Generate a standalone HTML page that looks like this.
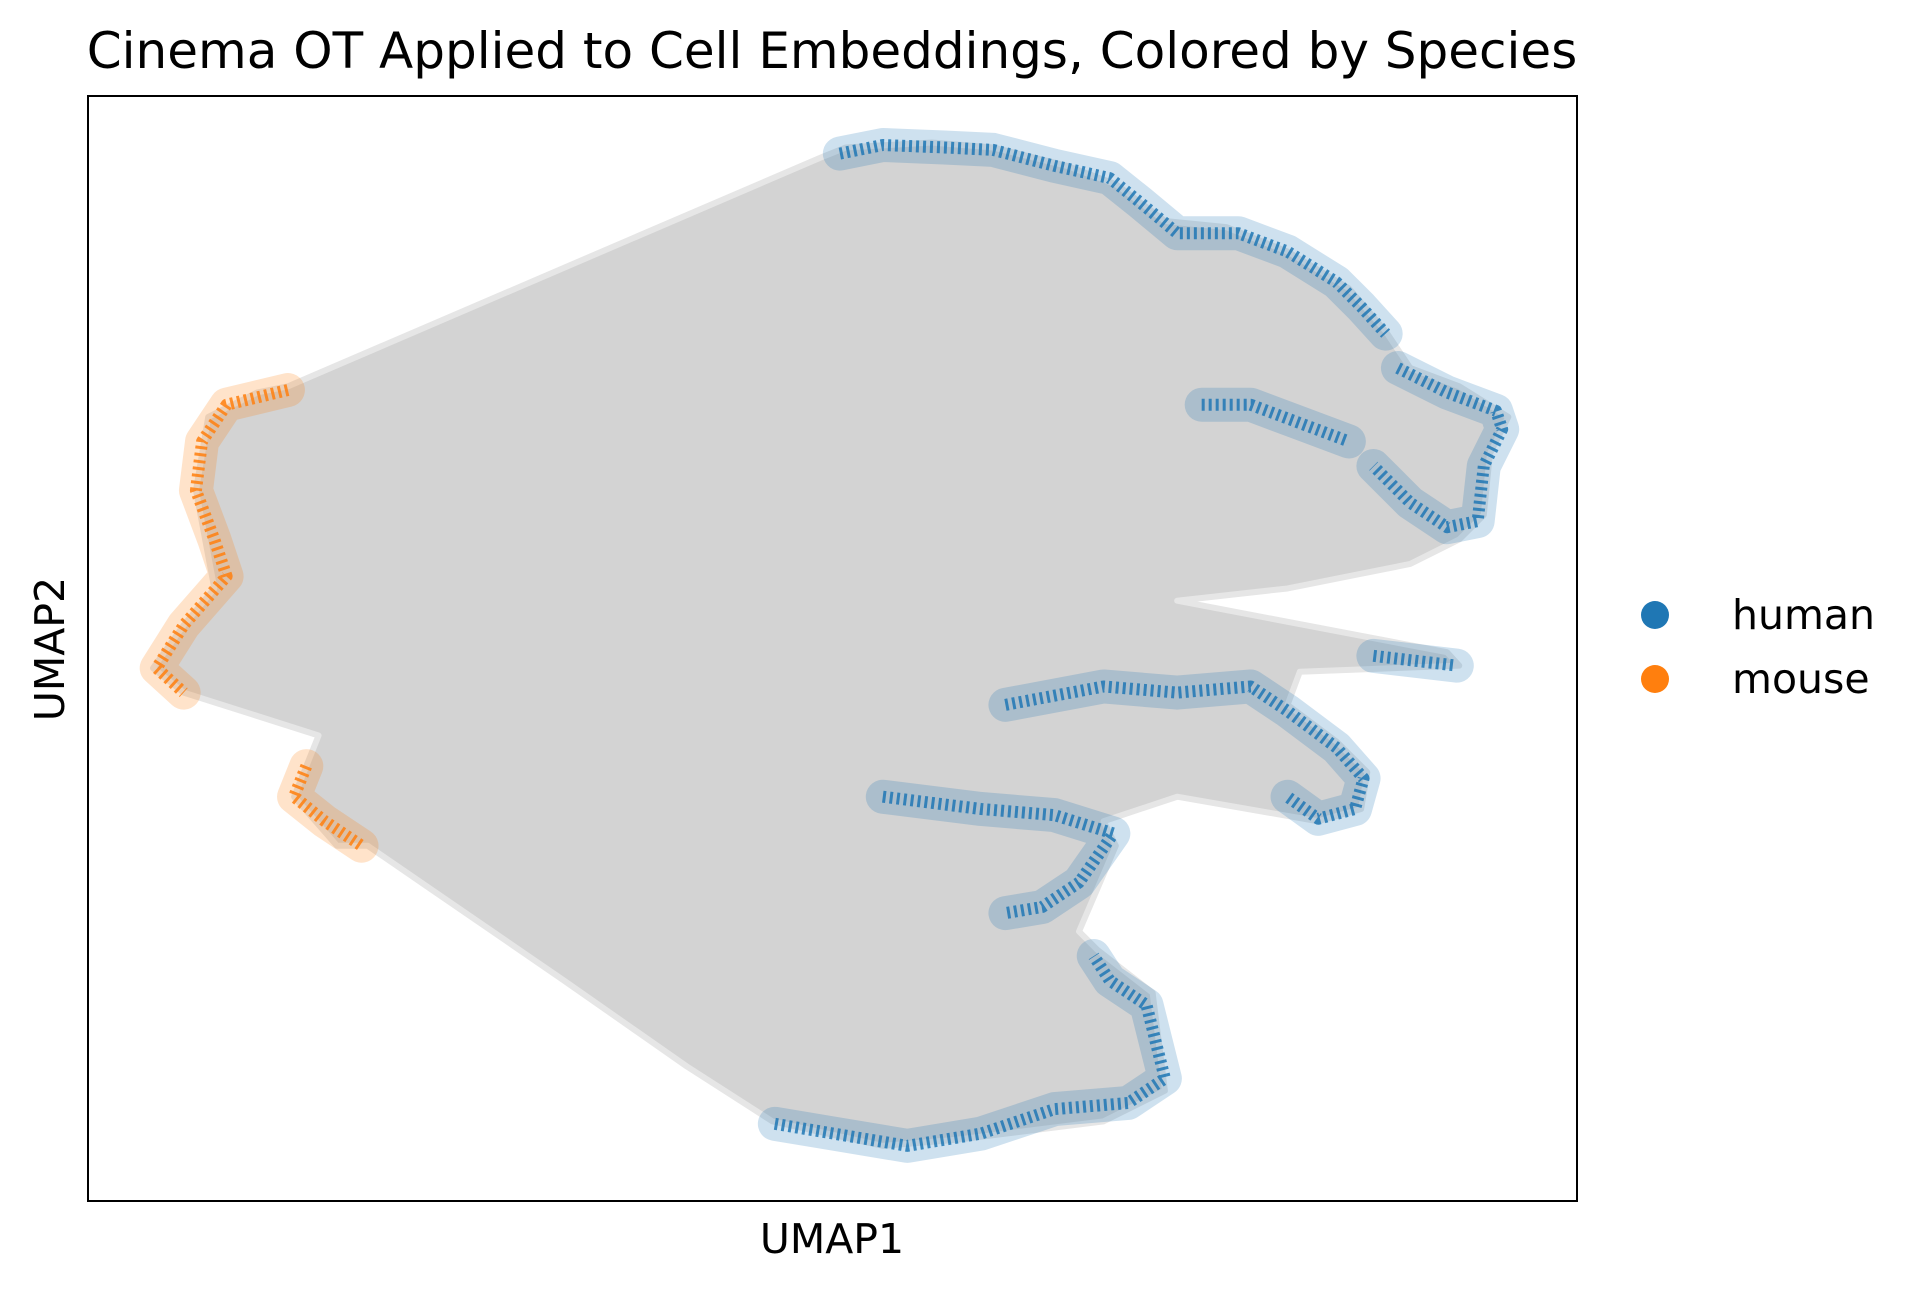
<!DOCTYPE html>
<html><head><meta charset="utf-8"><style>
html,body{margin:0;padding:0;background:#fff;}
svg{display:block;font-family:"DejaVu Sans","Liberation Sans",sans-serif;}
</style></head><body>
<svg id="chart" width="1922" height="1290" viewBox="0 0 1922 1290" xmlns="http://www.w3.org/2000/svg">
<rect x="0" y="0" width="1922" height="1290" fill="#fff"/>
<text x="832" y="68" text-anchor="middle" font-size="50" fill="#000">Cinema OT Applied to Cell Embeddings, Colored by Species</text>
<g id="plot"></g>
<rect x="88" y="96" width="1489" height="1105" fill="none" stroke="#000" stroke-width="2"/>
<text x="832" y="1253" text-anchor="middle" font-size="41" fill="#000">UMAP1</text>
<text x="0" y="0" transform="translate(64,649) rotate(-90)" text-anchor="middle" font-size="41" fill="#000">UMAP2</text>
<g>
<circle cx="1655" cy="615" r="14" fill="#1f77b4"/>
<text x="1732" y="629" font-size="41" fill="#000">human</text>
<circle cx="1655" cy="679" r="14" fill="#ff7f0e"/>
<text x="1732" y="693" font-size="41" fill="#000">mouse</text>
</g>
</svg>
<script>
// data in embedding units (UMAP1 72..1286, UMAP2 78..980 from top)
const cloudX=[235,670,690,760,810,870,910,950,1000,1050,1100,1130,1150,1190,1230,1215,1210,1190,1150,1100,1050,960,1180,1190,1060,1050,1090,1115,1110,1075,960,900,910,880,895,940,950,900,780,720,630,560,460,300,275,240,260,150,125,150,175,160,170,210];
const cloudY=[315,128,120,116,120,135,150,180,185,205,235,270,300,315,340,370,420,440,460,470,480,490,532,543,548,575,605,630,660,670,650,670,690,760,775,810,890,915,930,935,915,870,800,690,690,650,600,565,545,510,480,400,340,320];
const humanSegs=[
 [[685,125],[720,118],[770,120],[810,122],[860,135],[905,145],[930,165],[960,190],[1010,190],[1050,205],[1090,230],[1110,250],[1130,272]],
 [[1140,300],[1180,320],[1220,335],[1225,350],[1210,380],[1205,425],[1180,430],[1150,410],[1120,380]],
 [[980,330],[1020,330],[1060,345],[1100,360]],
 [[1120,535],[1188,543]],
 [[820,575],[900,560],[960,565],[1020,560],[1050,580],[1090,610],[1112,635],[1105,660],[1075,668],[1050,650]],
 [[720,650],[800,660],[860,665],[908,680],[880,720],[850,740],[820,745]],
 [[632,917],[680,925],[740,935],[800,925],[860,905],[920,900],[950,880],[935,820],[905,800],[892,780]]
];
const mouseSegs=[
 [[235,318],[185,330],[165,360],[160,400],[175,440],[185,470],[150,510],[128,545],[150,565]],
 [[250,625],[240,650],[265,670],[295,690]]
];
const X0=72,X1=1286,Y0=78,Y1=980;
function sx(v){return 88+(v-X0)/(X1-X0)*1489;}
function sy(v){return 96+(v-Y0)/(Y1-Y0)*1105;}
const NS='http://www.w3.org/2000/svg';
const plot=document.getElementById('plot');
const cloud=document.createElementNS(NS,'polygon');


cloud.setAttribute('points',cloudX.map((x,i)=>sx(x)+','+sy(cloudY[i])).join(' '));
cloud.setAttribute('fill','#d3d3d3');
cloud.setAttribute('stroke','#e6e6e6');
cloud.setAttribute('stroke-width','6');
cloud.setAttribute('stroke-linejoin','round');
plot.appendChild(cloud);
function drawSegs(segs,color,name){
 segs.forEach(seg=>{
  const pts=seg.map(p=>sx(p[0])+','+sy(p[1])).join(' ');
  const band=document.createElementNS(NS,'polyline');
  
  
  band.setAttribute('points',pts);
  band.setAttribute('fill','none');
  band.setAttribute('stroke',color);
  band.setAttribute('stroke-opacity','0.22');
  band.setAttribute('stroke-width','34');
  band.setAttribute('stroke-linejoin','round');
  band.setAttribute('stroke-linecap','round');
  plot.appendChild(band);
  const dots=document.createElementNS(NS,'polyline');
  
  
  dots.setAttribute('points',pts);
  dots.setAttribute('fill','none');
  dots.setAttribute('stroke',color);
  dots.setAttribute('stroke-width','12');
  dots.setAttribute('stroke-dasharray','3 4');
  dots.setAttribute('stroke-opacity','0.85');
  dots.setAttribute('stroke-linejoin','round');
  plot.appendChild(dots);
 });
}
drawSegs(humanSegs,'#1f77b4','human-cells');
drawSegs(mouseSegs,'#ff7f0e','mouse-cells');
</script>
</body></html>
